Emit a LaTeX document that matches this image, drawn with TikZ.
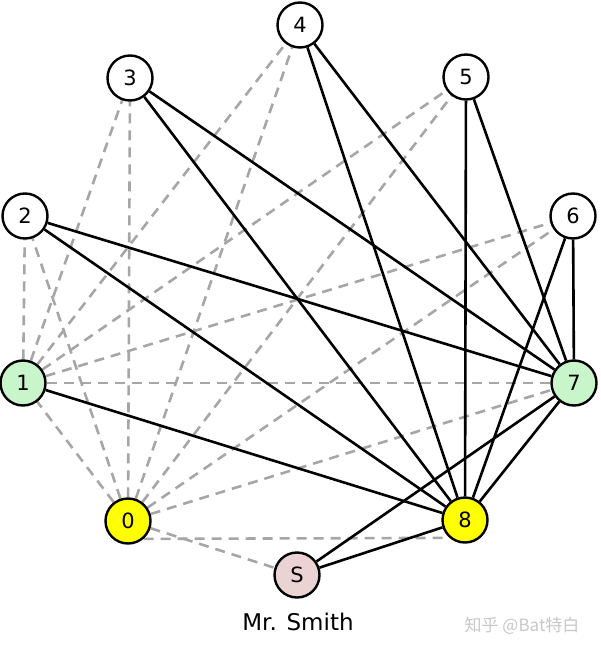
\documentclass[tikz,border=0pt]{standalone}
\usepackage{fontspec}
\setmainfont{DejaVu Sans}
\newfontfamily\cjk{Noto Sans CJK SC}
\usetikzlibrary{backgrounds}

\definecolor{gpale}{HTML}{C8F5CA}
\definecolor{ypale}{HTML}{FFFF00}
\definecolor{spale}{HTML}{EBD3D3}

\begin{document}
\begin{tikzpicture}[x=1pt, y=-1pt,
    person/.style={circle, draw=black, line width=2.4pt, fill=white, minimum size=45pt, inner sep=0pt, font=\fontsize{21}{21}\selectfont},
    shake/.style={line width=2.6pt, black},
    noshake/.style={line width=2.6pt, black!35, dash pattern=on 10pt off 7pt}]
        \useasboundingbox (0, 0) rectangle (600, 652);

        % people around the table
        \node[person] (p4) at (300, 25) {4};
        \node[person] (p3) at (130, 78) {3};
        \node[person] (p5) at (466, 77) {5};
        \node[person] (p2) at (25, 216) {2};
        \node[person] (p6) at (573, 216) {6};
        \node[person, fill=gpale] (p1) at (23, 383) {1};
        \node[person, fill=gpale] (p7) at (574, 383) {7};
        \node[person, fill=ypale] (p0) at (128, 521) {0};
        \node[person, fill=ypale] (p8) at (465, 520) {8};
        \node[person, fill=spale] (pS) at (297, 575) {S};
        \node[font=\fontsize{23}{23}\selectfont] (smith) at (298, 622) {Mr. Smith};
        \node[text=black!22, font=\cjk\fontsize{17}{17}\selectfont] (mark) at (522, 626) {知乎 @Bat特白};

        \begin{scope}[on background layer]
            % no handshake
            \foreach \q in {1, 2, 3, 4, 5, 6, 7, S}
                \draw[noshake] (p0) -- (p\q);
            \draw[noshake] (p0.-49) -- (p8.-131);
            \foreach \q in {2, 3, 4, 5, 6, 7}
                \draw[noshake] (p1) -- (p\q);

            % handshake
            \foreach \q in {1, 2, 3, 4, 5, 6, 7, S}
                \draw[shake] (p8) -- (p\q);
            \foreach \q in {2, 3, 4, 5, 6, S}
                \draw[shake] (p7) -- (p\q);
        \end{scope}
    \end{tikzpicture}
\end{document}
